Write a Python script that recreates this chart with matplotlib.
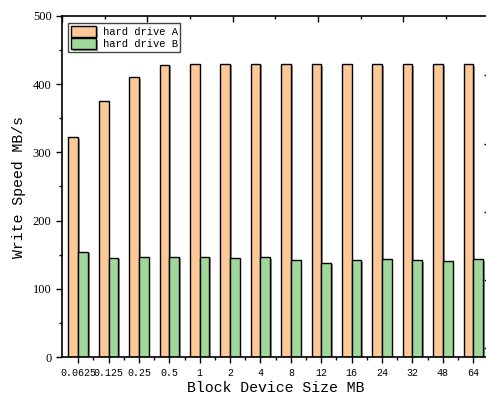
import matplotlib
matplotlib.use("Agg")
import matplotlib.pyplot as plt
import matplotlib.patheffects as pe
import numpy as np

# block sizes (MB)
sizes = ["0.0625", "0.125", "0.25", "0.5", "1", "2", "4", "8",
         "12", "16", "24", "32", "48", "64"]
drive_a = [322, 375, 410, 428, 430, 430, 430, 429, 429, 429, 429, 429, 429, 429]
drive_b = [154, 145, 146, 147, 147, 145, 146, 142, 138, 142, 143, 142, 141, 143]

mono = "Liberation Mono"
serif = "Liberation Serif"

fig = plt.figure(figsize=(4.86, 4.05), dpi=100)
ax = fig.add_axes([62 / 486, 48 / 405, 428 / 486, 341 / 405])

x = np.arange(len(sizes))
w = 0.32
shadow = [pe.SimplePatchShadow(offset=(1.2, -1.0), shadow_rgbFace="#666666", alpha=0.7), pe.Normal()]
ax.bar(x - w / 2, drive_a, width=w, color="#FDC897", edgecolor="black", linewidth=1.0,
       label="hard drive A", path_effects=shadow)
ax.bar(x + w / 2, drive_b, width=w, color="#A0D89B", edgecolor="black", linewidth=1.0,
       label="hard drive B", path_effects=shadow)

ax.set_xlim(-0.53, 13.55)
ax.set_ylim(0, 500)
ax.set_xticks(x)
ax.set_xticklabels(sizes, fontfamily=mono, fontsize=7.2)
ax.set_xticks(x + 0.5, minor=True)
ax.set_yticks(range(0, 501, 100))
ax.set_yticks(range(50, 500, 100), minor=True)
for lab in ax.get_yticklabels():
    lab.set_fontfamily(serif)
    lab.set_fontsize(9)
ax.tick_params(axis="both", which="major", direction="out", length=4, width=1)
ax.tick_params(axis="both", which="minor", direction="out", length=2.5, width=1)
ax.tick_params(axis="x", pad=4)

# Origin-style leftover ticks on top and right
top = ax.secondary_xaxis("top")
top_major = -0.53 + 2.806 * np.arange(0, 6)
top.set_xticks(top_major)
top.set_xticks(top_major + 1.403, minor=True)
top.tick_params(which="major", direction="in", length=4, width=1, labeltop=False)
top.tick_params(which="minor", direction="in", length=2.5, width=1)
top.set_xticklabels([])
top.spines["top"].set_visible(False)

right = ax.secondary_yaxis("right")
right.set_yticks([13, 113, 213, 313, 413])
right.set_yticks([63, 163, 263, 363, 463], minor=True)
right.tick_params(which="major", direction="in", length=4, width=1)
right.tick_params(which="minor", direction="in", length=2.5, width=1)
right.set_yticklabels([])
right.spines["right"].set_visible(False)

for sp in ax.spines.values():
    sp.set_linewidth(1.2)

ax.set_xlabel("Block Device Size MB", fontfamily=mono, fontsize=10.7, labelpad=2)
ax.set_ylabel("Write Speed MB/s", fontfamily=mono, fontsize=10.7, labelpad=5)

leg = ax.legend(loc="upper left", bbox_to_anchor=(0.01, 0.985), prop={"family": mono, "size": 7.6},
                frameon=True, fancybox=False, edgecolor="#444444", framealpha=1,
                handlelength=2.4, handleheight=1.2, borderpad=0.25, labelspacing=0.15,
                handletextpad=0.6, borderaxespad=0.2)
leg.get_frame().set_linewidth(1.0)

fig.savefig("out.png", dpi=100)
